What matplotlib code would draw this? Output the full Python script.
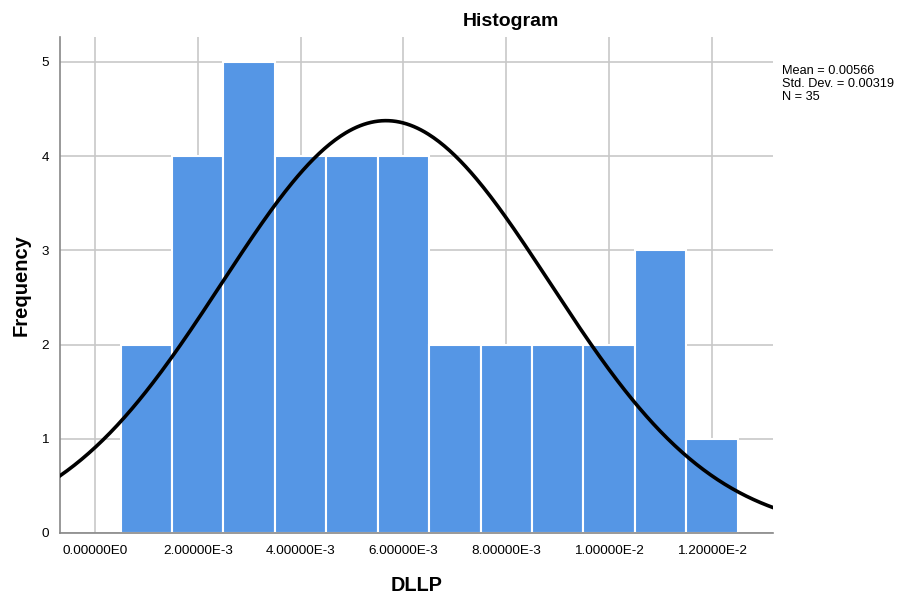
import numpy as np
import matplotlib
matplotlib.use('Agg')
from matplotlib import pyplot as plt

# histogram of DLLP (SPSS style)
bin_edges = [0.0005, 0.0015, 0.0025, 0.0035, 0.0045, 0.0055, 0.0065,
             0.0075, 0.0085, 0.0095, 0.0105, 0.0115, 0.0125]
counts = [2, 4, 5, 4, 4, 4, 2, 2, 2, 2, 3, 1]
x_ticks = [0.0, 0.002, 0.004, 0.006, 0.008, 0.010, 0.012]
x_tick_labels = ['0.00000E0', '2.00000E-3', '4.00000E-3', '6.00000E-3',
                 '8.00000E-3', '1.00000E-2', '1.20000E-2']
y_ticks = [0, 1, 2, 3, 4, 5]
mean = 0.00566
std_dev = 0.00319
n = 35

plt.rcParams['font.family'] = ['Liberation Sans', 'DejaVu Sans']

fig = plt.figure(figsize=(9.01, 5.94), dpi=100)
ax = fig.add_axes([0.0666, 0.1027, 0.7914, 0.835])

# bars
lefts = bin_edges[:-1]
widths = np.diff(bin_edges)
ax.bar(lefts, counts, width=widths, align='edge', color='#5596e5',
       edgecolor='white', linewidth=1.5, zorder=2)

# normal curve scaled to counts
xlim = (-0.00068, 0.01319)
xs = np.linspace(xlim[0], xlim[1], 400)
bw = widths[0]
ys = n * bw / (std_dev * np.sqrt(2 * np.pi)) * np.exp(-0.5 * ((xs - mean) / std_dev) ** 2)
ax.plot(xs, ys, color='black', linewidth=2.6, zorder=3)

ax.set_xlim(*xlim)
ax.set_ylim(0, 5.265)
ax.set_xticks(x_ticks)
ax.set_xticklabels(x_tick_labels, fontsize=9.7)
ax.set_yticks(y_ticks)
ax.tick_params(axis='y', labelsize=9.7)
ax.tick_params(axis='x', length=0, pad=9)
ax.tick_params(axis='y', length=0, pad=8)
ax.grid(True, color='#c8c8c8', linewidth=1.2, zorder=0)
ax.set_axisbelow(True)

for side in ['top', 'right']:
    ax.spines[side].set_visible(False)
for side in ['left', 'bottom']:
    ax.spines[side].set_color('#888888')
    ax.spines[side].set_linewidth(1.2)

ax.set_xlabel('DLLP', fontsize=14.3, fontweight='bold', labelpad=13)
ax.set_ylabel('Frequency', fontsize=14.5, fontweight='bold', labelpad=8)

fig.text(511 / 901, 1 - 21 / 594, 'Histogram', ha='center', va='center',
         fontsize=14, fontweight='bold')
fig.text(782 / 901, 1 - 65 / 594,
         'Mean = %.5f\nStd. Dev. = %.5f\nN = %d' % (mean, std_dev, n),
         ha='left', va='top', fontsize=9.2, linespacing=1.12)

fig.savefig('out.png', dpi=100)
